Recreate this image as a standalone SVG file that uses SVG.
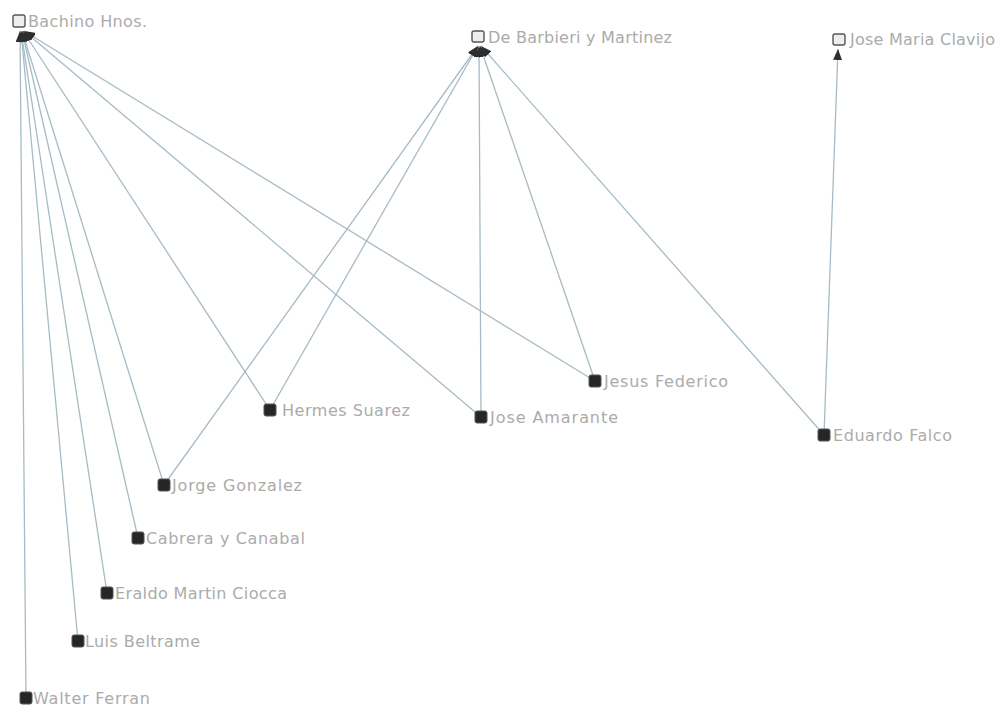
<svg xmlns="http://www.w3.org/2000/svg" width="1000" height="706" viewBox="0 0 1000 706">
<style>
.e{stroke:#a6bbc5;stroke-width:1.3;fill:none;marker-end:url(#ah)}
.src{fill:#262626;stroke:#555;stroke-width:1}
.tgt{fill:#eeeeee;stroke:#555;stroke-width:1.4}
.lbl{font-family:"DejaVu Sans","Liberation Sans",sans-serif;font-size:16px;fill:#ababab}
</style>
<defs>
<marker id="ah" markerUnits="userSpaceOnUse" markerWidth="11" markerHeight="9" refX="11" refY="4.5" orient="auto">
<path d="M0,0 L11,4.5 L0,9 z" fill="#2e2e2e"/>
</marker>
</defs>
<rect width="1000" height="706" fill="#ffffff"/>
<g id="connectors">
<line class="e" x1="595" y1="381" x2="24" y2="31"/>
<line class="e" x1="481" y1="417" x2="24" y2="31"/>
<line class="e" x1="270" y1="410" x2="23" y2="31"/>
<line class="e" x1="164" y1="485" x2="22" y2="31"/>
<line class="e" x1="138" y1="538" x2="22" y2="31"/>
<line class="e" x1="107" y1="593" x2="21" y2="31"/>
<line class="e" x1="78" y1="641" x2="21" y2="31"/>
<line class="e" x1="26" y1="698" x2="20" y2="31"/>
<line class="e" x1="164" y1="485" x2="478" y2="46"/>
<line class="e" x1="270" y1="410" x2="478" y2="46"/>
<line class="e" x1="481" y1="417" x2="479" y2="46"/>
<line class="e" x1="595" y1="381" x2="480" y2="46"/>
<line class="e" x1="824" y1="435" x2="481" y2="46"/>
<line class="e" x1="824" y1="435" x2="838" y2="49"/>
</g>
<g id="n-bachino"><rect class="tgt" x="13" y="15" width="12" height="12" rx="2"/><text class="lbl" x="28" y="27" textLength="119" lengthAdjust="spacing">Bachino Hnos.</text></g>
<g id="n-debarbieri"><rect class="tgt" x="472" y="31" width="12" height="11" rx="2"/><text class="lbl" x="488" y="43" textLength="184" lengthAdjust="spacing">De Barbieri y Martinez</text></g>
<g id="n-clavijo"><rect class="tgt" x="833" y="34" width="12" height="11" rx="2"/><text class="lbl" x="850" y="45" textLength="145" lengthAdjust="spacing">Jose Maria Clavijo</text></g>
<g id="n-hermes"><rect class="src" x="264" y="404" width="12" height="12" rx="2"/><text class="lbl" x="282" y="416" textLength="128" lengthAdjust="spacing">Hermes Suarez</text></g>
<g id="n-amarante"><rect class="src" x="475" y="411" width="12" height="12" rx="2"/><text class="lbl" x="490" y="423" textLength="128" lengthAdjust="spacing">Jose Amarante</text></g>
<g id="n-jesus"><rect class="src" x="589" y="375" width="12" height="12" rx="2"/><text class="lbl" x="604" y="387" textLength="124" lengthAdjust="spacing">Jesus Federico</text></g>
<g id="n-falco"><rect class="src" x="818" y="429" width="12" height="12" rx="2"/><text class="lbl" x="833" y="441" textLength="119" lengthAdjust="spacing">Eduardo Falco</text></g>
<g id="n-jorge"><rect class="src" x="158" y="479" width="12" height="12" rx="2"/><text class="lbl" x="172" y="491" textLength="130" lengthAdjust="spacing">Jorge Gonzalez</text></g>
<g id="n-cabrera"><rect class="src" x="132" y="532" width="12" height="12" rx="2"/><text class="lbl" x="146" y="544" textLength="159" lengthAdjust="spacing">Cabrera y Canabal</text></g>
<g id="n-eraldo"><rect class="src" x="101" y="587" width="12" height="12" rx="2"/><text class="lbl" x="115" y="599" textLength="172" lengthAdjust="spacing">Eraldo Martin Ciocca</text></g>
<g id="n-luis"><rect class="src" x="72" y="635" width="12" height="12" rx="2"/><text class="lbl" x="85" y="647" textLength="115" lengthAdjust="spacing">Luis Beltrame</text></g>
<g id="n-walter"><rect class="src" x="20" y="692" width="12" height="12" rx="2"/><text class="lbl" x="33" y="704" textLength="117" lengthAdjust="spacing">Walter Ferran</text></g>
</svg>
